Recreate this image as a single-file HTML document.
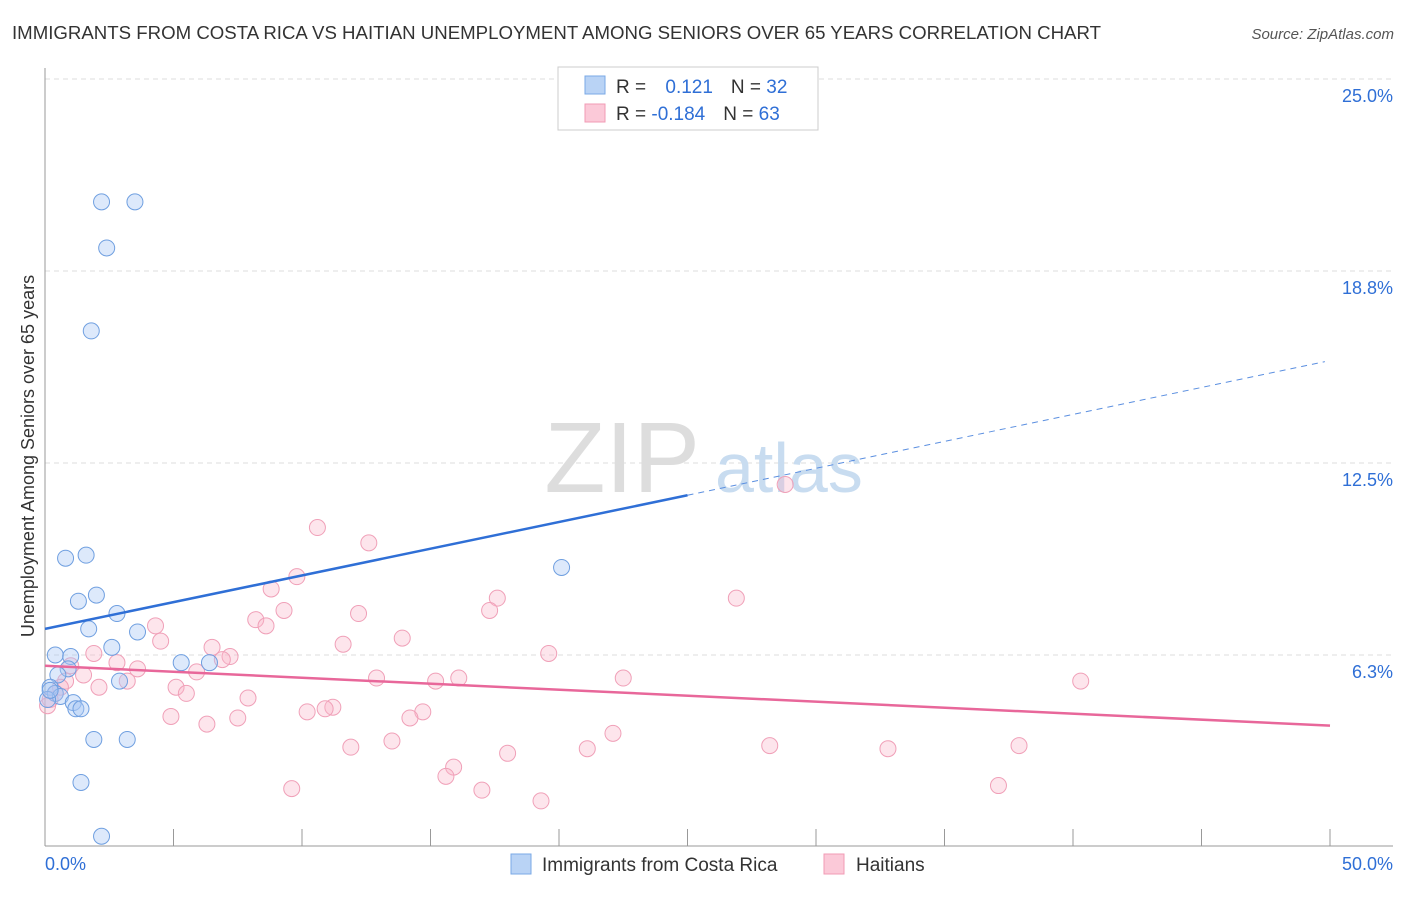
<!DOCTYPE html>
<html><head><meta charset="utf-8"><style>
body{margin:0;background:#fff;font-family:"Liberation Sans",sans-serif}
svg text{font-family:"Liberation Sans",sans-serif}
</style></head><body>
<svg id="chart" width="1406" height="892" xmlns="http://www.w3.org/2000/svg">
<text x="12" y="39" font-size="18" fill="#333" textLength="1089" lengthAdjust="spacingAndGlyphs">IMMIGRANTS FROM COSTA RICA VS HAITIAN UNEMPLOYMENT AMONG SENIORS OVER 65 YEARS CORRELATION CHART</text>
<text x="1394" y="39" font-size="15" fill="#555" text-anchor="end" font-style="italic">Source: ZipAtlas.com</text>
<g id="grid"></g>
<text x="700" y="492" font-size="100" fill="#ddd" text-anchor="end" font-family="Liberation Serif">ZIP</text>
<text x="715" y="492" font-size="70" fill="#c8dcf0">atlas</text>
<text transform="translate(34,456) rotate(-90)" font-size="18" fill="#333" text-anchor="middle">Unemployment Among Seniors over 65 years</text>
<g id="marks"></g>
<g>
<rect x="558" y="67" width="260" height="63" fill="#fff" stroke="#ccc"/>
<rect x="585" y="76" width="20" height="18" fill="#b9d3f5" stroke="#7aa8e6"/>
<rect x="585" y="104" width="20" height="18" fill="#fbc9d8" stroke="#f19bb5"/>
<text x="616" y="93" font-size="19" fill="#333">R = <tspan fill="#2f6fd6" dx="14">0.121</tspan><tspan dx="18" fill="#333">N = </tspan><tspan fill="#2f6fd6">32</tspan></text>
<text x="616" y="120" font-size="19" fill="#333">R = <tspan fill="#2f6fd6">-0.184</tspan><tspan dx="18" fill="#333">N = </tspan><tspan fill="#2f6fd6">63</tspan></text>
</g>
<g>
<rect x="511" y="854" width="20" height="20" fill="#b9d3f5" stroke="#7aa8e6"/>
<text x="542" y="871" font-size="19" fill="#333">Immigrants from Costa Rica</text>
<rect x="824" y="854" width="20" height="20" fill="#fbc9d8" stroke="#f19bb5"/>
<text x="856" y="871" font-size="19" fill="#333">Haitians</text>
</g>
</svg>
<script>
const blueX=[2.2,3.5,2.4,1.8,0.8,1.6,2.0,1.3,2.8,1.7,3.6,2.6,0.4,1.0,0.9,0.5,2.9,0.2,0.4,0.6,0.1,1.1,1.2,1.4,5.3,6.4,1.9,3.2,1.4,2.2,20.1,0.2];
const blueY=[21.0,21.0,19.5,16.8,9.4,9.5,8.2,8.0,7.6,7.1,7.0,6.5,6.25,6.2,5.8,5.6,5.4,5.2,5.0,4.9,4.8,4.7,4.5,4.5,6.0,6.0,3.5,3.5,2.1,0.35,9.1,5.1];
const pinkX=[28.8,10.6,12.6,9.8,8.8,17.6,26.9,12.2,17.3,9.3,8.2,8.6,4.3,4.5,13.9,11.6,6.5,7.2,19.6,1.9,2.8,1.0,3.6,5.9,1.5,6.9,12.9,16.1,15.2,22.5,40.3,0.8,3.2,2.1,5.1,5.5,7.9,0.4,0.2,0.1,11.2,10.9,10.2,14.7,14.2,4.9,7.5,6.3,22.1,13.5,11.9,21.1,18.0,28.2,32.8,37.9,15.9,15.6,37.1,9.6,17.0,19.3,0.6];
const pinkY=[11.8,10.4,9.9,8.8,8.4,8.1,8.1,7.6,7.7,7.7,7.4,7.2,7.2,6.7,6.8,6.6,6.5,6.2,6.3,6.3,6.0,5.9,5.8,5.7,5.6,6.1,5.5,5.5,5.4,5.5,5.4,5.4,5.4,5.2,5.2,5.0,4.85,5.0,4.8,4.6,4.55,4.5,4.4,4.4,4.2,4.25,4.2,4.0,3.7,3.45,3.25,3.2,3.05,3.3,3.2,3.3,2.6,2.3,2.0,1.9,1.85,1.5,5.2];
const xTicks=[0,5,10,15,20,25,30,35,40,45,50];
const yTicks=[6.25,12.5,18.75,25];
const yTickLabels=["6.3%","12.5%","18.8%","25.0%"];
const blueTrend=[[0,7.1],[25,11.45],[49.8,15.8]];
const pinkTrend=[[0,5.9],[50,3.95]];
const sx=v=>45+v*25.7, sy=v=>847-v*30.72;
const NS="http://www.w3.org/2000/svg";
function mk(t,a,p){const e=document.createElementNS(NS,t);for(const k in a)e.setAttribute(k,a[k]);p.appendChild(e);return e;}
const grid=document.getElementById('grid'), marks=document.getElementById('marks');
yTicks.forEach((v,i)=>{
 const l=mk('line',{x1:45,x2:1393,y1:sy(v),y2:sy(v),stroke:'#ddd','stroke-dasharray':'5,4'},grid);
 
 
 const t=mk('text',{x:1393,y:sy(v)+23,'font-size':18,fill:'#2f6fd6','text-anchor':'end'},grid);
 t.textContent=yTickLabels[i];
 
 
});
mk('line',{x1:45,x2:45,y1:68,y2:846,stroke:'#999'},grid);
mk('line',{x1:45,x2:1393,y1:846,y2:846,stroke:'#999'},grid);
xTicks.forEach(v=>{const l=mk('line',{x1:sx(v),x2:sx(v),y1:829,y2:846,stroke:'#999'},grid);
 
 });
let t0=mk('text',{x:45,y:870,'font-size':18,fill:'#2f6fd6'},grid);t0.textContent="0.0%";


let t1=mk('text',{x:1393,y:870,'font-size':18,fill:'#2f6fd6','text-anchor':'end'},grid);t1.textContent="50.0%";


pinkX.forEach((x,i)=>{const c=mk('circle',{cx:sx(x),cy:sy(pinkY[i]),r:8,fill:'rgba(248,180,200,0.35)',stroke:'#f0a0b8','stroke-width':1},marks);
 
 });
blueX.forEach((x,i)=>{const c=mk('circle',{cx:sx(x),cy:sy(blueY[i]),r:8,fill:'rgba(170,200,245,0.4)',stroke:'#6f9fe0','stroke-width':1},marks);
 
 });
let b1=mk('line',{x1:sx(blueTrend[0][0]),y1:sy(blueTrend[0][1]),x2:sx(blueTrend[1][0]),y2:sy(blueTrend[1][1]),stroke:'#2f6fd6','stroke-width':2.5},marks);


let b2=mk('line',{x1:sx(blueTrend[1][0]),y1:sy(blueTrend[1][1]),x2:sx(blueTrend[2][0]),y2:sy(blueTrend[2][1]),stroke:'#5b8fe0','stroke-width':1,'stroke-dasharray':'6,5'},marks);


let p1=mk('line',{x1:sx(pinkTrend[0][0]),y1:sy(pinkTrend[0][1]),x2:sx(pinkTrend[1][0]),y2:sy(pinkTrend[1][1]),stroke:'#e8679a','stroke-width':2.5},marks);


</script>
</body></html>
